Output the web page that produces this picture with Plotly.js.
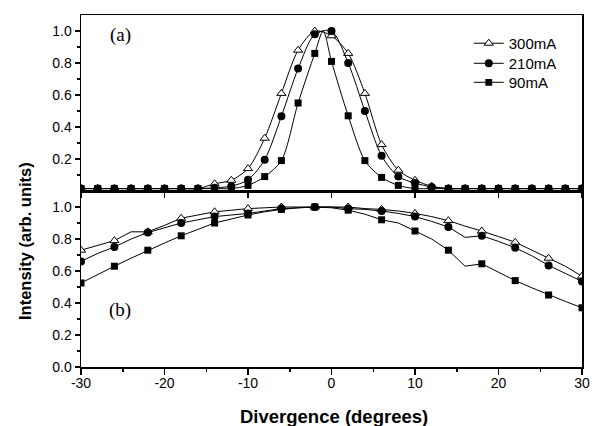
<!DOCTYPE html>
<html>
<head>
<meta charset="utf-8">
<script src="https://cdn.plot.ly/plotly-3.0.1.min.js"></script>
<style>html,body{margin:0;padding:0;background:#fff;}#chart{width:592px;height:426px;}</style>
</head>
<body>
<div id="chart"></div>
<script>
// ---- Data ----
const seriesNames = ['300mA', '210mA', '90mA'];

// Panel (a): divergence (degrees) and normalised intensity
const topX300 = [-30,-28,-26,-24,-22,-20,-18,-16,-14,-12,-10,-8,-6,-4,-2,0,2,4,6,8,10,12,14,16,18,20,22,24,26,28,30];
const topY300 = [0.015,0.015,0.015,0.015,0.015,0.015,0.015,0.015,0.045,0.067,0.14,0.33,0.61,0.88,1.0,0.97,0.86,0.61,0.29,0.13,0.067,0.03,0.015,0.015,0.015,0.015,0.015,0.015,0.015,0.015,0.015];
const topX210 = [-30,-28,-26,-24,-22,-20,-18,-16,-14,-12,-10,-8,-6,-4,-2,0,2,4,6,8,10,12,14,16,18,20,22,24,26,28,30];
const topY210 = [0.015,0.015,0.015,0.015,0.015,0.015,0.015,0.015,0.02,0.03,0.07,0.196,0.467,0.765,0.98,1.0,0.80,0.50,0.22,0.09,0.05,0.025,0.015,0.015,0.015,0.015,0.015,0.015,0.015,0.015,0.015];
const topX90  = [-30,-28,-26,-24,-22,-20,-18,-16,-14,-12,-10,-8,-6,-4,-2,-1,0,2,4,6,8,10,12,14,16,18,20,22,24,26,28,30];
const topY90  = [0.015,0.015,0.015,0.015,0.015,0.015,0.015,0.015,0.015,0.015,0.035,0.09,0.19,0.55,0.86,1.0,0.81,0.47,0.19,0.085,0.035,0.015,0.015,0.015,0.015,0.015,0.015,0.015,0.015,0.015,0.015,0.015];

// Panel (b)
const botX = [-30,-28,-26,-24,-22,-20,-18,-16,-14,-12,-10,-8,-6,-4,-2,0,2,4,6,8,10,12,14,16,18,20,22,24,26,28,30];
const botY300 = [0.73,0.76,0.79,0.845,0.845,0.885,0.93,0.95,0.97,0.98,0.99,0.995,1.0,1.0,1.0,1.0,1.0,0.99,0.985,0.975,0.96,0.94,0.915,0.88,0.85,0.815,0.78,0.73,0.68,0.63,0.567];
const botY210 = [0.66,0.71,0.75,0.80,0.84,0.87,0.90,0.92,0.94,0.95,0.96,0.975,0.99,0.995,1.0,1.0,0.99,0.985,0.975,0.96,0.94,0.91,0.875,0.81,0.82,0.785,0.745,0.695,0.635,0.585,0.535];
const botY90  = [0.525,0.58,0.63,0.68,0.73,0.775,0.82,0.86,0.90,0.925,0.95,0.97,0.985,0.995,1.0,0.995,0.98,0.955,0.92,0.90,0.85,0.80,0.73,0.63,0.645,0.59,0.54,0.495,0.45,0.41,0.37];

const xTickVals = [-30,-20,-10,0,10,20,30];
const xTickText = ['-30','-20','-10','0','10','20','30'];
const yTickValsB = [0,0.2,0.4,0.6,0.8,1.0];
const yTickTextB = ['0.0','0.2','0.4','0.6','0.8','1.0'];
const yTickValsA = [0.2,0.4,0.6,0.8,1.0];
const yTickTextA = ['0.2','0.4','0.6','0.8','1.0'];

// ---- Styling ----
const styles = [
  {symbol:'triangle-up', size:8, color:'white', lw:1},
  {symbol:'circle', size:8, color:'black', lw:0},
  {symbol:'square', size:7, color:'black', lw:0}
];
const legendIds = ['legend', 'legend2', 'legend3'];
// top panel: markers on even degrees; bottom panel: markers every 4 degrees from -30
function showTop(x){ return x % 2 === 0; }
function showBot(x){ return Math.abs(x % 4) === 2; }

function mk(xs, ys, i, showFn, xa, ya, legend, shape){
  const st = styles[i];
  return {
    x: xs, y: ys, name: seriesNames[i], type:'scatter', mode:'lines+markers',
    xaxis: xa, yaxis: ya, showlegend: legend, legend: legendIds[i],
    line: {color:'black', width:1, shape: shape, smoothing: 0.8},
    marker: {
      symbol: st.symbol, color: st.color, opacity: 1,
      size: xs.map(v => showFn(v) ? st.size : 0),
      line: {color:'black', width: xs.map(v => showFn(v) ? st.lw : 0)}
    },
    hoverinfo:'skip'
  };
}

const data = [
  mk(botX, botY300, 0, showBot, 'x', 'y', false, 'linear'),
  mk(botX, botY210, 1, showBot, 'x', 'y', false, 'linear'),
  mk(botX, botY90,  2, showBot, 'x', 'y', false, 'linear'),
  mk(topX300, topY300, 0, showTop, 'x2', 'y2', true, 'spline'),
  mk(topX210, topY210, 1, showTop, 'x2', 'y2', true, 'spline'),
  mk(topX90,  topY90,  2, showTop, 'x2', 'y2', true, 'spline')
];

const axisCommon = {
  showline:true, linecolor:'black', linewidth:1.5, mirror:true,
  showgrid:false, zeroline:false, ticks:'outside', tickcolor:'black', tickwidth:1.5
};
function legendAt(yp){
  return {x:0.774, y:yp, xanchor:'left', yanchor:'top', bgcolor:'rgba(0,0,0,0)',
          font:{size:15, color:'black'}, borderwidth:0};
}

const layout = {
  width:592, height:426,
  margin:{l:81, r:10, t:15, b:59, pad:0},
  paper_bgcolor:'white', plot_bgcolor:'white',
  font:{family:'"Liberation Sans", Arial, Helvetica, sans-serif', size:14, color:'black'},
  showlegend:true,
  legend: legendAt(0.966),
  legend2: legendAt(0.909),
  legend3: legendAt(0.855),
  xaxis: Object.assign({}, axisCommon, {
    domain:[0,1], anchor:'y', range:[-30,30],
    tickmode:'array', tickvals:xTickVals, ticktext:xTickText, ticklen:6, ticklabelstandoff:-3,
    minor:{tickmode:'array', tickvals:[-25,-15,-5,5,15,25], ticks:'outside', ticklen:3, tickwidth:1.5, tickcolor:'black', showgrid:false}
  }),
  xaxis2: Object.assign({}, axisCommon, {
    domain:[0,1], anchor:'y2', range:[-30,30],
    tickmode:'array', tickvals:xTickVals, showticklabels:false, ticklen:5
  }),
  yaxis: Object.assign({}, axisCommon, {
    domain:[0,0.5], anchor:'x', range:[0,1.1],
    tickmode:'array', tickvals:yTickValsB, ticktext:yTickTextB, ticklen:5,
    minor:{tickmode:'array', tickvals:[0.1,0.3,0.5,0.7,0.9], ticks:'outside', ticklen:3, tickwidth:1.5, tickcolor:'black', showgrid:false}
  }),
  yaxis2: Object.assign({}, axisCommon, {
    domain:[0.5,1], anchor:'x2', range:[0,1.1],
    tickmode:'array', tickvals:yTickValsA, ticktext:yTickTextA, ticklen:5,
    minor:{tickmode:'array', tickvals:[0.1,0.3,0.5,0.7,0.9], ticks:'outside', ticklen:3, tickwidth:1.5, tickcolor:'black', showgrid:false}
  }),
  annotations:[
    {text:'(a)', xref:'x2', yref:'y2', x:-25.3, y:0.975, showarrow:false,
     font:{family:'"Liberation Serif", "Times New Roman", serif', size:19, color:'black'}},
    {text:'(b)', xref:'x', yref:'y', x:-25.3, y:0.356, showarrow:false,
     font:{family:'"Liberation Serif", "Times New Roman", serif', size:19, color:'black'}},
    {text:'Intensity (arb. units)', xref:'paper', yref:'paper', x:-0.1118, y:0.358,
     textangle:-90, showarrow:false, xanchor:'center', yanchor:'middle',
     font:{size:16.5, weight:700, color:'black'}},
    {text:'Divergence (degrees)', xref:'paper', yref:'paper', x:0.505, y:-0.14,
     showarrow:false, xanchor:'center', yanchor:'middle',
     font:{size:18.5, weight:700, color:'black'}}
  ]
};

Plotly.newPlot('chart', data, layout, {staticPlot:true, displayModeBar:false});
</script>
</body>
</html>
